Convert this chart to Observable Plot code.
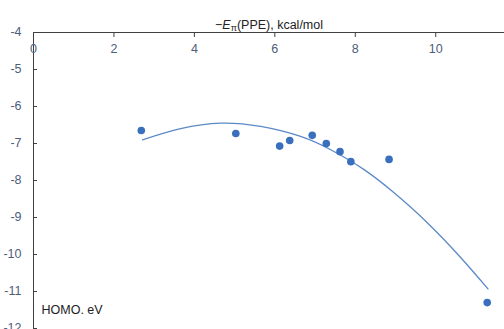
<!DOCTYPE html>
<html>
<head>
<meta charset="utf-8">
<script src="https://cdn.jsdelivr.net/npm/d3@7"></script>
<script src="https://cdn.jsdelivr.net/npm/@observablehq/plot@0.6"></script>
<style>
  html, body { margin: 0; padding: 0; background: #fff; }
  #chart { width: 504px; height: 329px; overflow: hidden; }
</style>
</head>
<body>
<div id="chart"></div>
<script>
// Tick values
const xTicks = [0, 2, 4, 6, 8, 10];
const yTicks = [-4, -5, -6, -7, -8, -9, -10, -11, -12];

// Data points: -Eπ(PPE), kcal/mol (x) vs HOMO, eV (y)
const pointX = [2.68, 5.03, 6.12, 6.37, 6.93, 7.28, 7.62, 7.89, 8.84, 11.28];
const pointY = [-6.65, -6.73, -7.07, -6.92, -6.78, -7.00, -7.22, -7.49, -7.43, -11.30];

// Trend line (polynomial)
const trendX = [2.71, 3.66, 4.65, 5.65, 6.64, 7.39, 8.21, 8.95, 9.79, 10.62, 11.30];
const trendY = [-6.90, -6.60, -6.45, -6.54, -6.81, -7.17, -7.70, -8.32, -9.14, -10.08, -10.93];

const xTitle = "−Eπ(PPE), kcal/mol";
const yTitle = "HOMO. eV";

const points = pointX.map((x, i) => ({x, y: pointY[i]}));
const trend = trendX.map((x, i) => ({x, y: trendY[i]}));

const axisColor = "#404040";
const tickLabelColor = "#4d5d7a";
const font = "'Liberation Sans', Arial, sans-serif";

const chart = Plot.plot({
  width: 504,
  height: 329,
  marginLeft: 33,
  marginTop: 32,
  marginRight: 0,
  marginBottom: 1,
  x: {domain: [0, 11.71], axis: null},
  y: {domain: [-12, -4], axis: null},
  style: {fontFamily: font, background: "#fff", overflow: "visible"},
  marks: [
    // axis lines
    Plot.ruleY([-4], {stroke: axisColor, strokeWidth: 1}),
    Plot.ruleX([0], {stroke: axisColor, strokeWidth: 1}),
    // inward ticks
    Plot.axisX(xTicks, {anchor: "top", tickSize: 4, dy: 4, tickFormat: () => "", label: null, stroke: axisColor}),
    Plot.axisY(yTicks, {anchor: "left", tickSize: 4, dx: 4, tickFormat: () => "", label: null, stroke: axisColor}),
    // tick labels
    Plot.text(xTicks, {x: d => d, y: -4, dy: 16, text: d => String(d), fill: tickLabelColor, fontSize: 12.5}),
    Plot.text(yTicks, {x: 0, y: d => d, dx: -12, dy: -1, text: d => String(d), textAnchor: "end", fill: tickLabelColor, fontSize: 12.5}),
    // trend line
    Plot.line(trend, {x: "x", y: "y", curve: "natural", stroke: "#5b89c7", strokeWidth: 1.3}),
    // points
    Plot.dot(points, {x: "x", y: "y", r: 3.8, fill: "#3a6fbd", stroke: "none"}),
    // titles
    Plot.text([xTitle], {frameAnchor: "top", dy: -12, text: d => d, fill: "#222", fontSize: 12.5}),
    Plot.text([yTitle], {frameAnchor: "bottom-left", dx: 8, dy: -15, text: d => d, textAnchor: "start", fill: "#222", fontSize: 12.5})
  ]
});

// Rich formatting for the x title: italic E with subscript π
d3.select(chart).selectAll("text").each(function() {
  const el = d3.select(this);
  if (el.text() === xTitle) {
    el.text(null);
    el.append("tspan").text("−");
    el.append("tspan").attr("font-style", "italic").text("E");
    el.append("tspan").attr("font-size", "9").attr("dy", "2").text("π");
    el.append("tspan").attr("dy", "-2").text("(PPE), kcal/mol");
  }
});

document.getElementById("chart").appendChild(chart);
</script>
</body>
</html>
